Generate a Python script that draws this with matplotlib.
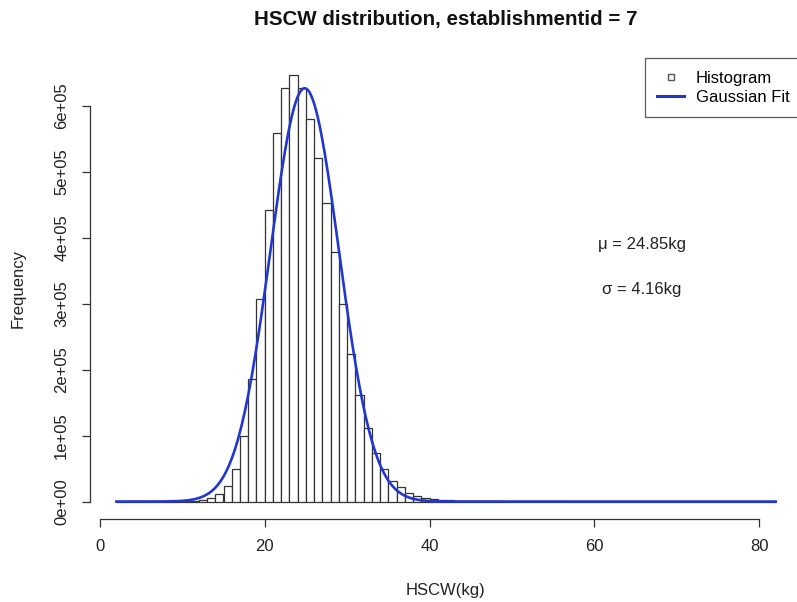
import numpy as np
import matplotlib
matplotlib.use('Agg')
import matplotlib.pyplot as plt
from matplotlib.lines import Line2D

plt.rcParams['font.family'] = ['Liberation Sans', 'DejaVu Sans']

# histogram bins (width 1 kg) and counts
bin_edges = list(range(2, 83))
counts = [0, 0, 0, 0, 0, 0, 50, 150, 400, 1200,
          3000, 6000, 12000, 24000, 50000, 99000, 186000, 308000, 442000, 559000,
          627000, 647000, 628000, 581000, 521000, 453000, 379000, 300000, 224000, 162000,
          111000, 73000, 49000, 31500, 21500, 13500, 9000, 6000, 4000, 2700,
          1800, 1200, 800, 500, 300, 200, 100] + [0] * 33

mu = 24.85
sigma = 4.16

x_ticks = [0, 20, 40, 60, 80]
y_ticks = [0, 1e5, 2e5, 3e5, 4e5, 5e5, 6e5]
y_tick_labels = ['0e+00', '1e+05', '2e+05', '3e+05', '4e+05', '5e+05', '6e+05']

W, H = 797, 602
fig = plt.figure(figsize=(W / 100, H / 100), dpi=100)
ax = fig.add_axes([90 / W, 1 - 518.6 / H, (802 - 90) / W, (518.6 - 58) / H])

lefts = np.array(bin_edges[:-1])
widths = np.diff(bin_edges)
ax.bar(lefts, counts, width=widths, align='edge', facecolor='white',
       edgecolor='#333333', linewidth=0.9)

# gaussian fit scaled to the histogram total
n_total = np.sum(np.array(counts) * widths)
xs = np.linspace(bin_edges[0], bin_edges[-1], 400)
ys = n_total / (sigma * np.sqrt(2 * np.pi)) * np.exp(-0.5 * ((xs - mu) / sigma) ** 2)
ax.plot(xs, ys, color='#2038d0', linewidth=1.9)

ax.set_xlim(-1.2, 85.2)
ax.set_ylim(-25880, 672880)
for side in ['top', 'right']:
    ax.spines[side].set_visible(False)
ax.spines['bottom'].set_bounds(0, 80)
ax.spines['left'].set_bounds(0, 6e5)
for side in ['bottom', 'left']:
    ax.spines[side].set_color('#333333')
    ax.spines[side].set_linewidth(0.9)

ax.set_xticks(x_ticks)
ax.set_yticks(y_ticks)
ax.set_yticklabels(y_tick_labels, rotation=90, va='center')
ax.tick_params(axis='both', direction='out', length=6, width=0.9, color='#333333',
               labelsize=12, labelcolor='#222222', pad=9)

fig.text(446 / W, 1 - 20 / H, 'HSCW distribution, establishmentid = 7',
         ha='center', va='center', fontsize=14.8, fontweight='bold', color='#111111')
fig.text(446 / W, 1 - 591 / H, 'HSCW(kg)', ha='center', va='center',
         fontsize=12, color='#222222')
fig.text(18 / W, 1 - 288 / H, 'Frequency', ha='center', va='center',
         rotation=90, fontsize=12, color='#222222')

ax.text(65.8, 3.9e5, 'μ = 24.85kg', ha='center', va='center', fontsize=12, color='#222222')
ax.text(65.8, 3.22e5, 'σ = 4.16kg', ha='center', va='center', fontsize=12, color='#222222')

handles = [Line2D([], [], linestyle='none', marker='s', markersize=5,
                  markerfacecolor='white', markeredgecolor='#555555'),
           Line2D([], [], color='#2038d0', linewidth=2.2)]
leg = ax.legend(handles, ['Histogram', 'Gaussian Fit'], loc='upper right',
                bbox_to_anchor=(1, 1), borderaxespad=0, fancybox=False,
                edgecolor='#333333', fontsize=12, handlelength=1.6,
                handletextpad=0.7, labelspacing=0.25, borderpad=0.75)
leg.get_frame().set_linewidth(0.9)

fig.savefig('out.png', dpi=100)
